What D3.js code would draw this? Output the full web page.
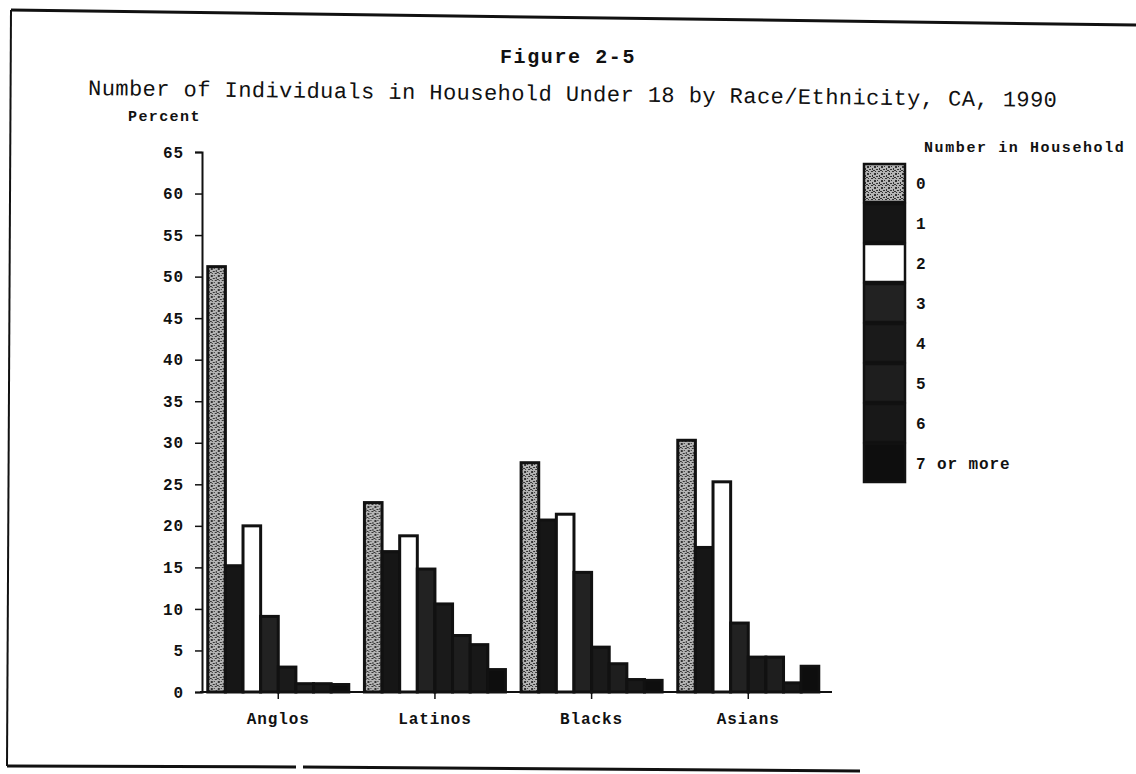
<!DOCTYPE html>
<html>
<head>
<meta charset="utf-8">
<script src="https://cdn.jsdelivr.net/npm/d3@7"></script>
<style>
  body { margin: 0; background: #fff; }
  svg { display: block; }
  text { font-family: "Liberation Mono", "DejaVu Sans Mono", monospace; fill: #111; }
</style>
</head>
<body>
<div id="chart"></div>
<script>
// data (percent)
const groups = ["Anglos", "Latinos", "Blacks", "Asians"];
const sizes = ["0", "1", "2", "3", "4", "5", "6", "7 or more"];
const anglos = [51.2, 15.2, 20.0, 9.1, 3.0, 1.0, 1.0, 0.9];
const latinos = [22.8, 16.9, 18.8, 14.8, 10.6, 6.8, 5.7, 2.7];
const blacks = [27.6, 20.7, 21.4, 14.4, 5.4, 3.4, 1.5, 1.4];
const asians = [30.3, 17.4, 25.3, 8.3, 4.2, 4.2, 1.1, 3.1];
const yTicks = [0, 5, 10, 15, 20, 25, 30, 35, 40, 45, 50, 55, 60, 65];

const W = 1136, H = 774;
const seriesByGroup = [anglos, latinos, blacks, asians];

const svg = d3.select("#chart").append("svg")
    .attr("width", W)
    .attr("height", H);

// fills - photocopy look, bar 0 speckled grey, bar 2 white, rest near black
const defs = svg.append("defs");
const speck = defs.append("pattern")
    .attr("id", "speck")
    .attr("width", 7).attr("height", 7)
    .attr("patternUnits", "userSpaceOnUse");
speck.append("rect").attr("width", 7).attr("height", 7).attr("fill", "#b4b4b4");
[[0, 0, 2, 1], [3, 2, 2, 2], [5, 5, 2, 1], [1, 4, 1, 2], [4, 0, 1, 1], [2, 6, 2, 1], [6, 2, 1, 1]].forEach(r => {
    speck.append("rect").attr("x", r[0]).attr("y", r[1]).attr("width", r[2]).attr("height", r[3]).attr("fill", "#333");
});
const fills = ["url(#speck)", "#161616", "#ffffff", "#222", "#1a1a1a", "#1e1e1e", "#181818", "#0e0e0e"];

// page frame (scanned, slightly tilted)
const frame = svg.append("g").attr("fill", "none").attr("stroke", "#111");
frame.append("path").attr("d", "M11,10 L1136,25").attr("stroke-width", 3);
frame.append("path").attr("d", "M11,10 L7,766").attr("stroke-width", 2);
frame.append("path").attr("d", "M7,766 L296,767").attr("stroke-width", 3);
frame.append("path").attr("d", "M303,767 L860,771").attr("stroke-width", 3);

// titles
svg.append("text")
    .attr("x", 568).attr("y", 63)
    .attr("text-anchor", "middle")
    .style("font-size", "20px")
    .style("font-weight", "bold")
    .style("letter-spacing", "1.6px")
    .text("Figure 2-5");

svg.append("text")
    .attr("x", 88).attr("y", 95)
    .attr("transform", "rotate(0.7, 88, 95)")
    .style("font-size", "22px")
    .style("letter-spacing", "0.45px")
    .text("Number of Individuals in Household Under 18 by Race/Ethnicity, CA, 1990");

svg.append("text")
    .attr("x", 128).attr("y", 121)
    .style("font-size", "15px")
    .style("font-weight", "bold")
    .style("letter-spacing", "1.4px")
    .text("Percent");

// scales
const x0 = d3.scaleBand()
    .domain(groups)
    .range([200, 832])
    .paddingInner(0.1)
    .paddingOuter(0.067)
    .align(0.37);

const x1 = d3.scaleBand()
    .domain(sizes)
    .range([0, x0.bandwidth()]);

const y = d3.scaleLinear()
    .domain([0, 65])
    .range([692, 152]);

// bars
const grp = svg.selectAll(".grp")
    .data(groups)
    .enter().append("g")
    .attr("class", "grp")
    .attr("transform", d => `translate(${x0(d)},0)`);

grp.selectAll("rect")
    .data((g, i) => sizes.map((s, j) => ({ size: s, idx: j, value: seriesByGroup[i][j] })))
    .enter().append("rect")
    .attr("x", d => x1(d.size))
    .attr("y", d => y(d.value))
    .attr("width", x1.bandwidth())
    .attr("height", d => y(0) - y(d.value))
    .attr("fill", d => fills[d.idx])
    .attr("stroke", "#111")
    .attr("stroke-width", 3);

// axes
const yAxis = svg.append("g")
    .attr("transform", "translate(202,0)")
    .call(d3.axisLeft(y).tickValues(yTicks).tickSize(7).tickPadding(11));

const xAxis = svg.append("g")
    .attr("transform", "translate(0,692)")
    .call(d3.axisBottom(x0).tickSize(7).tickSizeOuter(0).tickPadding(14));

[yAxis, xAxis].forEach(a => {
    a.select(".domain").attr("stroke", "#111").attr("stroke-width", 2);
    a.selectAll(".tick line").attr("stroke", "#111").attr("stroke-width", 1.5);
    a.selectAll("text")
        .style("font-family", "Liberation Mono, DejaVu Sans Mono, monospace")
        .style("font-size", "16px")
        .style("font-weight", "bold")
        .style("letter-spacing", "0.9px")
        .attr("fill", "#111");
});
xAxis.select(".domain").attr("d", "M200,0H832");

// legend
svg.append("text")
    .attr("x", 924).attr("y", 152)
    .style("font-size", "15px")
    .style("font-weight", "bold")
    .style("letter-spacing", "1.6px")
    .text("Number in Household");

const leg = svg.selectAll(".leg")
    .data(sizes)
    .enter().append("g")
    .attr("class", "leg")
    .attr("transform", (d, i) => `translate(864,${164 + i * 40})`);

leg.append("rect")
    .attr("width", 41)
    .attr("height", 38)
    .attr("fill", (d, i) => fills[i])
    .attr("stroke", "#111")
    .attr("stroke-width", 2.5);

leg.append("text")
    .attr("x", 52)
    .attr("y", 19)
    .attr("dy", "0.35em")
    .style("font-size", "16px")
    .style("font-weight", "bold")
    .style("letter-spacing", "0.9px")
    .text(d => d);
</script>
</body>
</html>
